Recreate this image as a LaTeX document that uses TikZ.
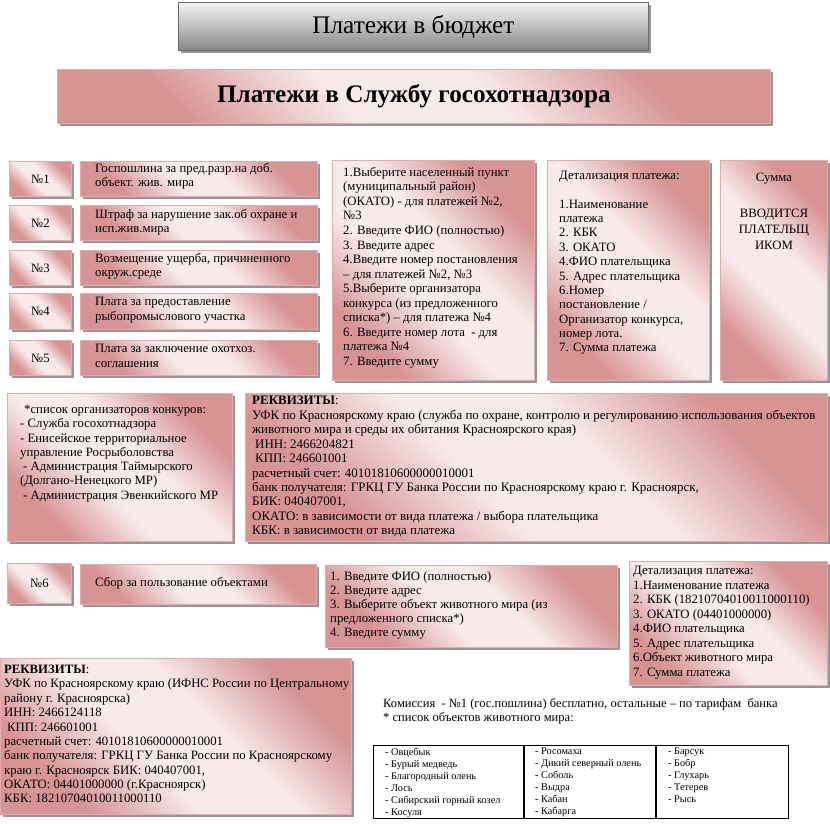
\documentclass[tikz,border=0pt]{standalone}
\usepackage{fontspec}
\setmainfont{Liberation Serif}
\usetikzlibrary{shadows}
\definecolor{pinkD}{RGB}{215,148,147}
\definecolor{pinkL}{RGB}{248,234,234}
\definecolor{pinkB}{RGB}{226,172,172}
\definecolor{shadowC}{RGB}{150,150,150}
\definecolor{grayTop}{RGB}{244,244,244}
\definecolor{grayBot}{RGB}{135,135,135}
\definecolor{grayB}{RGB}{105,105,105}
\pgfdeclarehorizontalshading{pinkshade}{100bp}{color(0bp)=(pinkD); color(27bp)=(pinkD); color(43bp)=(pinkL); color(57bp)=(pinkL); color(73bp)=(pinkD); color(100bp)=(pinkD)}
\begin{document}
\begin{tikzpicture}[x=1bp,y=-1bp,
  pinkbox/.style={draw=pinkB, line width=0.8bp, shading=pinkshade, shading angle=45,
    drop shadow={shadow xshift=2.5bp, shadow yshift=-2.5bp, fill=shadowC, opacity=1},
    inner sep=0pt, anchor=north west},
  graybox/.style={draw=grayB, line width=0.8bp, top color=grayTop, bottom color=grayBot,
    drop shadow={shadow xshift=2.5bp, shadow yshift=-2.5bp, fill=shadowC, opacity=1},
    inner sep=0pt, anchor=north west},
  txt/.style={font=\fontsize{12.8}{14.6}\selectfont, align=left, inner sep=0pt, anchor=north west,
    execute at begin node={\rule{0pt}{9.5bp}}},
  tbl/.style={font=\fontsize{10.3}{12}\selectfont, align=left, inner sep=0pt, anchor=north west,
    execute at begin node={\rule{0pt}{8bp}}},
  numtxt/.style={font=\fontsize{12.8}{14.6}\selectfont}
]
\fill[white] (0,0) rectangle (830,824);
\useasboundingbox (0,0) rectangle (830,824);

% headers
\node[graybox, minimum width=470bp, minimum height=48bp, font=\fontsize{25.4}{30}\selectfont] (budget) at (178,2) {Платежи в бюджет};
\node[pinkbox, minimum width=713bp, minimum height=54bp, font=\bfseries\fontsize{25.3}{30}\selectfont] (title) at (57,69) {Платежи в Службу госохотнадзора};

% payments 1-5
\node[pinkbox, numtxt, minimum width=62bp, minimum height=35bp] (n1) at (9,161) {№1};
\node[pinkbox, minimum width=237bp, minimum height=35bp] (d1) at (80,161) {};
\node[txt] (d1t) at (95,163) {Госпошлина за пред.разр.на доб.\\объект. жив. мира};

\node[pinkbox, numtxt, minimum width=62bp, minimum height=35bp] (n2) at (9,205) {№2};
\node[pinkbox, minimum width=237bp, minimum height=35bp] (d2) at (80,205) {};
\node[txt] (d2t) at (95,209) {Штраф за нарушение зак.об охране и\\исп.жив.мира};

\node[pinkbox, numtxt, minimum width=62bp, minimum height=35bp] (n3) at (9,250) {№3};
\node[pinkbox, minimum width=237bp, minimum height=35bp] (d3) at (80,250) {};
\node[txt] (d3t) at (95,253) {Возмещение ущерба, причиненного\\окруж.среде};

\node[pinkbox, numtxt, minimum width=62bp, minimum height=36bp] (n4) at (9,293) {№4};
\node[pinkbox, minimum width=237bp, minimum height=36bp] (d4) at (80,293) {};
\node[txt] (d4t) at (95,297) {Плата за предоставление\\рыбопромыслового участка};

\node[pinkbox, numtxt, minimum width=62bp, minimum height=35bp] (n5) at (9,340) {№5};
\node[pinkbox, minimum width=237bp, minimum height=35bp] (d5) at (80,340) {};
\node[txt] (d5t) at (95,344) {Плата за заключение охотхоз.\\соглашения};

% instructions
\node[pinkbox, minimum width=202bp, minimum height=220bp] (instr) at (332,160) {};
\node[txt] (instrt) at (343,167) {1.Выберите населенный пункт\\(муниципальный район)\\(ОКАТО) - для платежей №2,\\№3\\2. Введите ФИО (полностью)\\3. Введите адрес\\4.Введите номер постановления\\– для платежей №2, №3\\5.Выберите организатора\\конкурса (из предложенного\\списка*) – для платежа №4\\6. Введите номер лота\ \ - для\\платежа №4\\7. Введите сумму};

\node[pinkbox, minimum width=162bp, minimum height=220bp] (det) at (547,160) {};
\node[txt, font=\fontsize{12.8}{14.4}\selectfont] (dett) at (559,171) {Детализация платежа:\\[14.4bp]1.Наименование\\платежа\\2. КБК\\3. ОКАТО\\4.ФИО плательщика\\5. Адрес плательщика\\6.Номер\\постановление /\\Организатор конкурса,\\номер лота.\\7. Сумма платежа};

\node[pinkbox, minimum width=107bp, minimum height=220bp] (sum) at (720,160) {};
\node[txt, align=center, anchor=north, font=\fontsize{12.8}{16}\selectfont] (sumt) at (774,173) {Сумма\\[20bp]ВВОДИТСЯ\\ПЛАТЕЛЬЩ\\ИКОМ};

% organizers list
\node[pinkbox, minimum width=225bp, minimum height=148bp] (orgs) at (7,393) {};
\node[txt, font=\fontsize{12.8}{14.3}\selectfont] (orgst) at (20,405) {\hspace{4bp}*список организаторов конкуров:\\- Служба госохотнадзора\\- Енисейское территориальное\\управление Росрыболовства\\\hspace{3bp}- Администрация Таймырского\\(Долгано-Ненецкого МР)\\\hspace{3bp}- Администрация Эвенкийского МР};

% requisites 1
\node[pinkbox, minimum width=582bp, minimum height=148bp] (rek1) at (245,393) {};
\node[txt, font=\fontsize{13}{14.5}\selectfont] (rek1t) at (252,396) {\textbf{РЕКВИЗИТЫ}:\\УФК по Красноярскому краю (служба по охране, контролю и регулированию использования объектов\\животного мира и среды их обитания Красноярского края)\\\hspace{3bp}ИНН: 2466204821\\\hspace{3bp}КПП: 246601001\\расчетный счет: 40101810600000010001\\банк получателя: ГРКЦ ГУ Банка России по Красноярскому краю г. Красноярск,\\БИК: 040407001,\\ОКАТО: в зависимости от вида платежа / выбора плательщика\\КБК: в зависимости от вида платежа};

% payment 6
\node[pinkbox, numtxt, minimum width=64bp, minimum height=40bp] (n6) at (7,563) {№6};
\node[pinkbox, minimum width=236bp, minimum height=40bp] (d6) at (80,564) {};
\node[txt] (d6t) at (95,577) {Сбор за пользование объектами};

\node[pinkbox, minimum width=292bp, minimum height=82bp] (instr6) at (325,565) {};
\node[txt, font=\fontsize{12.8}{14.2}\selectfont] (instr6t) at (330,571) {1. Введите ФИО (полностью)\\2. Введите адрес\\3. Выберите объект животного мира (из\\предложенного списка*)\\4. Введите сумму};

\node[pinkbox, minimum width=198bp, minimum height=124bp] (det6) at (629,561) {};
\node[txt] (det6t) at (633,566) {Детализация платежа:\\1.Наименование платежа\\2. КБК (18210704010011000110)\\3. ОКАТО (04401000000)\\4.ФИО плательщика\\5. Адрес плательщика\\6.Объект животного мира\\7. Сумма платежа};

% requisites 2
\node[pinkbox, minimum width=351bp, minimum height=156bp] (rek2) at (0,658) {};
\node[txt, font=\fontsize{12.8}{14.4}\selectfont] (rek2t) at (4,665) {\textbf{РЕКВИЗИТЫ}:\\УФК по Красноярскому краю (ИФНС России по Центральному\\району г. Красноярска)\\ИНН: 2466124118\\\hspace{3bp}КПП: 246601001\\расчетный счет: 40101810600000010001\\банк получателя: ГРКЦ ГУ Банка России по Красноярскому\\краю г. Красноярск БИК: 040407001,\\ОКАТО: 04401000000 (г.Красноярск)\\КБК: 18210704010011000110};

% commission note
\node[txt, font=\fontsize{12.6}{14}\selectfont] (comm) at (383,698) {Комиссия\ \ - №1 (гос.пошлина) бесплатно, остальные – по тарифам\ \ банка\\* список объектов животного мира:};

% animals table
\node[draw=black, line width=0.8bp, inner sep=0pt, minimum width=415bp, minimum height=73bp, anchor=north west] (tab) at (373,745) {};
\coordinate (c1) at (524,745);
\coordinate (c1b) at (524,818);
\coordinate (c2) at (656,745);
\coordinate (c2b) at (656,818);
\draw[line width=2.2bp] (c1) -- (c1b);
\draw[line width=2.2bp] (c2) -- (c2b);
\node[tbl] (col1) at (385,748) {- Овцебык\\- Бурый медведь\\- Благородный олень\\- Лось\\- Сибирский горный козел\\- Косуля};
\node[tbl] (col2) at (535,748) {- Росомаха\\- Дикий северный олень\\- Соболь\\- Выдра\\- Кабан\\- Кабарга};
\node[tbl] (col3) at (668,748) {- Барсук\\- Бобр\\- Глухарь\\- Тетерев\\- Рысь};
\end{tikzpicture}
\end{document}
